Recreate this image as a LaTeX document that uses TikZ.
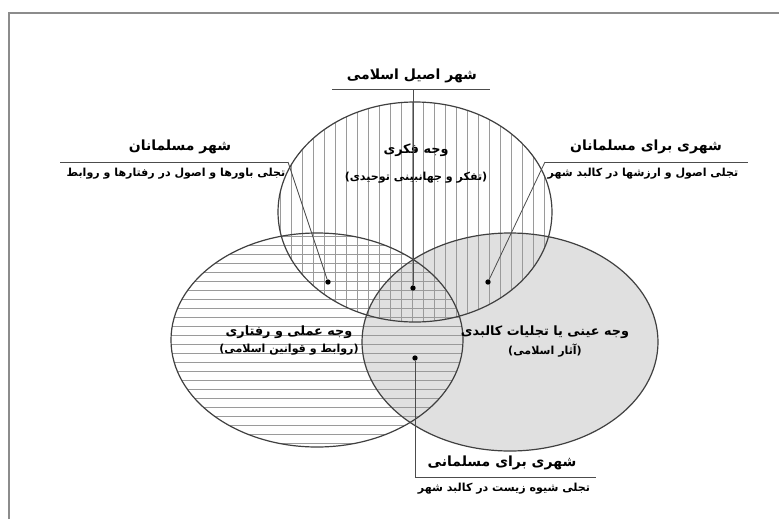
\documentclass[tikz,border=0pt]{standalone}
\usepackage{fontspec}
\newfontfamily\fafont[Script=Arabic]{DejaVu Sans}
\TeXXeTstate=1
\usetikzlibrary{positioning,calc}
\definecolor{FrameGray}{HTML}{8C8C8C}
\definecolor{BodyGray}{HTML}{E0E0E0}
\definecolor{HatchGray}{HTML}{9A9A9A}
\newcommand{\fa}[1]{\fafont\beginR #1\endR}

\begin{document}
\begin{tikzpicture}[
  x=0.75pt, y=-0.75pt,
  ring/.style={draw=black!75, line width=0.9pt},
  hatch/.style={draw=HatchGray, line width=0.45pt},
  head/.style={font=\fafont\fontsize{10.5}{12}\selectfont\bfseries, inner sep=1pt},
  facet/.style={font=\fafont\fontsize{9.6}{11}\selectfont\bfseries, inner sep=1pt},
  sub/.style={font=\fafont\fontsize{8.3}{10}\selectfont\bfseries, inner sep=1pt},
  lead/.style={draw=black!70, line width=0.6pt},
  dot/.style={circle, fill=black, inner sep=0pt, minimum size=4pt}
]
  \useasboundingbox (0,0) rectangle (779,519);
  \fill[white] (0,0) rectangle (779,519);
  \draw[FrameGray, line width=1.8pt] (9,519) -- (9,13) -- (779,13);

  % the three circles
  \fill[BodyGray] (510,342) ellipse [x radius=148, y radius=109];
  \begin{scope}
    \clip (415,212) ellipse [x radius=137, y radius=110];
    \foreach \x in {280,291,...,555} \draw[hatch] (\x,100) -- (\x,325);
  \end{scope}
  \begin{scope}
    \clip (317,340) ellipse [x radius=146, y radius=107];
    \foreach \y in {236,245,...,450} \draw[hatch] (168,\y) -- (465,\y);
  \end{scope}
  \draw[ring] (415,212) ellipse [x radius=137, y radius=110];
  \draw[ring] (317,340) ellipse [x radius=146, y radius=107];
  \draw[ring] (510,342) ellipse [x radius=148, y radius=109];

  % texts inside
  \node[facet] (fikri) at (416,150) {\fa{وجه فکری}};
  \node[sub, below=9pt of fikri] (fikriSub) {\fa{(تفکر و جهانبینی توحیدی)}};
  \node[facet] (amali) at (289,332) {\fa{وجه عملی و رفتاری}};
  \node[sub, below=2pt of amali] (amaliSub) {\fa{(روابط و قوانین اسلامی)}};
  \node[facet] (eyni) at (545,332) {\fa{وجه عینی یا تجلیات کالبدی}};
  \node[sub, below=2pt of eyni] (eyniSub) {\fa{(آثار اسلامی)}};

  % dots
  \node[dot] (dTL) at (328,282) {};
  \node[dot] (dC) at (413,288) {};
  \node[dot] (dTR) at (488,282) {};
  \node[dot] (dB) at (415,358) {};

  % labels outside
  \node[head] (asil) at (412,76) {\fa{شهر اصیل اسلامی}};
  \coordinate (asilL) at (332,89);
  \coordinate (asilR) at (490,89);
  \coordinate (asilM) at (413,89);
  \draw[lead] (asilL) -- (asilR);
  \draw[lead] (asilM) -- (dC);

  \node[head] (mosl) at (180,147) {\fa{شهر مسلمانان}};
  \coordinate (moslL) at (60,162);
  \coordinate (moslR) at (288,162);
  \node[sub] (moslSub) at (176,174) {\fa{تجلی باورها و اصول در رفتارها و روابط}};
  \draw[lead] (moslL) -- (moslR);
  \draw[lead] (moslR) -- (dTL);

  \node[head] (baraye) at (646,147) {\fa{شهری برای مسلمانان}};
  \coordinate (barayeL) at (545,162);
  \coordinate (barayeR) at (748,162);
  \node[sub] (barayeSub) at (643,174) {\fa{تجلی اصول و ارزشها در کالبد شهر}};
  \draw[lead] (barayeL) -- (barayeR);
  \draw[lead] (barayeL) -- (dTR);

  \node[head] (mosli) at (502,463) {\fa{شهری برای مسلمانی}};
  \coordinate (mosliL) at (415,477);
  \coordinate (mosliR) at (596,477);
  \node[sub] (mosliSub) at (504,489) {\fa{تجلی شیوه زیست در کالبد شهر}};
  \draw[lead] (mosliL) -- (mosliR);
  \draw[lead] (mosliL) -- (dB);
\end{tikzpicture}
\end{document}
